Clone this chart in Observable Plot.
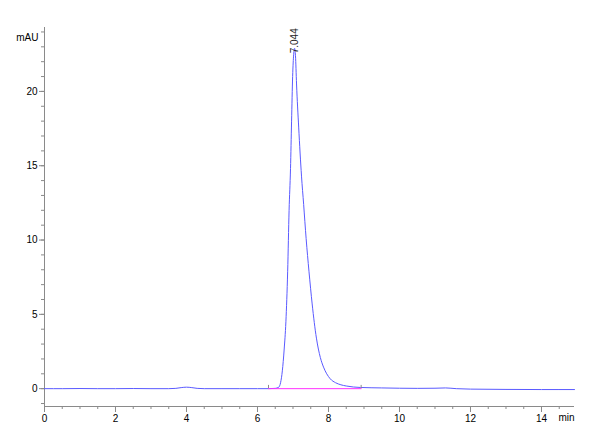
<!DOCTYPE html>
<html><head><meta charset="utf-8">
<script src="https://cdn.jsdelivr.net/npm/d3@7"></script>
<script src="https://cdn.jsdelivr.net/npm/@observablehq/plot@0.6"></script>
<style>body{margin:0;background:#fff}</style>
</head><body><div id="chart"></div>
<script>
// Chromatogram trace (min, mAU)
const times  = [0, 0.5, 1.0, 1.5, 2.0, 2.5, 3.0, 3.5, 3.7, 3.85, 4.0, 4.15, 4.3, 4.5, 5.0, 5.5, 6.0, 6.3, 6.5, 6.6, 6.65, 6.7, 6.75, 6.8, 6.85, 6.89, 6.93, 6.96, 6.99, 7.02, 7.044, 7.07, 7.1, 7.16, 7.24, 7.3, 7.37, 7.45, 7.54, 7.66, 7.77, 7.86, 7.95, 8.05, 8.2, 8.35, 8.5, 8.9, 9.5, 10.0, 10.5, 11.0, 11.3, 11.6, 12.0, 13.0, 14.0, 14.93];
const signal = [0, 0, 0.01, 0, 0, 0.01, 0, 0, 0.02, 0.07, 0.1, 0.07, 0.02, 0, 0, 0, 0, 0, 0.02, 0.1, 0.4, 1.2, 2.6, 4.5, 7.9, 12.0, 14.8, 18.0, 21.0, 22.5, 22.9, 22.4, 20.5, 17.6, 14.3, 12.4, 10.1, 7.9, 5.7, 3.4, 2.1, 1.45, 1.0, 0.66, 0.4, 0.26, 0.18, 0.08, 0.05, 0.03, 0.02, 0.03, 0.05, 0, -0.03, -0.05, -0.06, -0.06];
const peakTimes = [7.044];
const peakHeights = [22.9];
const peakLabels = ["7.044"];
const baselineTimes = [6.31, 8.92];
const baselineValues = [0, 0];
const xMajorTicks = [0, 2, 4, 6, 8, 10, 12, 14];
const xMinorTicks = [0, 0.5, 1, 1.5, 2, 2.5, 3, 3.5, 4, 4.5, 5, 5.5, 6, 6.5, 7, 7.5, 8, 8.5, 9, 9.5, 10, 10.5, 11, 11.5, 12, 12.5, 13, 13.5, 14, 14.5];
const yMajorTicks = [0, 5, 10, 15, 20];
const yMinorTicks = [-1, 0, 1, 2, 3, 4, 5, 6, 7, 8, 9, 10, 11, 12, 13, 14, 15, 16, 17, 18, 19, 20, 21, 22, 23, 24];
const xDomain = [0, 14.93];
const yDomain = [-1.2, 24.3];

const trace = times.map((t, i) => ({t, v: signal[i]}));
const baseline = baselineTimes.map((t, i) => ({t, v: baselineValues[i]}));
const peaks = peakTimes.map((t, i) => ({t, v: peakHeights[i], label: peakLabels[i]}));
const axisGrey = "#8a8a8a";

const chart = Plot.plot({
  width: 600, height: 440,
  marginLeft: 44, marginRight: 26, marginTop: 27, marginBottom: 34,
  style: {fontFamily: "'Liberation Sans', Arial, sans-serif", fontSize: "10px", background: "#fff", color: "#000"},
  x: {domain: xDomain, label: null},
  y: {domain: yDomain, label: null},
  marks: [
    Plot.axisX(xMinorTicks, {tickSize: 3, tickFormat: () => "", stroke: axisGrey, label: null}),
    Plot.axisX(xMajorTicks, {tickSize: 6, tickPadding: 2, stroke: axisGrey, fill: "#000", label: null}),
    Plot.axisY(yMinorTicks, {tickSize: 3, tickFormat: () => "", stroke: axisGrey, label: null}),
    Plot.axisY(yMajorTicks, {tickSize: 5, tickPadding: 2, stroke: axisGrey, fill: "#000", label: null}),
    Plot.ruleX([xDomain[0]], {y1: yDomain[0], y2: yDomain[1], stroke: axisGrey}),
    Plot.ruleY([yDomain[0]], {x1: xDomain[0], x2: xDomain[1], stroke: axisGrey}),
    Plot.line(trace, {x: "t", y: "v", stroke: "#5a5aff", strokeWidth: 1, curve: "monotone-x"}),
    Plot.line(baseline, {x: "t", y: "v", stroke: "#ff30ff", strokeWidth: 1}),
    Plot.ruleX(baseline, {x: "t", y1: "v", y2: 0.22, stroke: axisGrey}),
    Plot.text(peaks, {x: "t", y: "v", text: "label", rotate: -90, textAnchor: "start", dy: 5, fill: "#222", fontSize: 10}),
    Plot.text(["mAU"], {frameAnchor: "top-left", dx: -6, dy: 6, textAnchor: "end", fill: "#000"}),
    Plot.text(["min"], {frameAnchor: "bottom-right", dy: 14, textAnchor: "end", fill: "#000"})
  ]
});
document.getElementById("chart").appendChild(chart);
</script>
</body></html>
